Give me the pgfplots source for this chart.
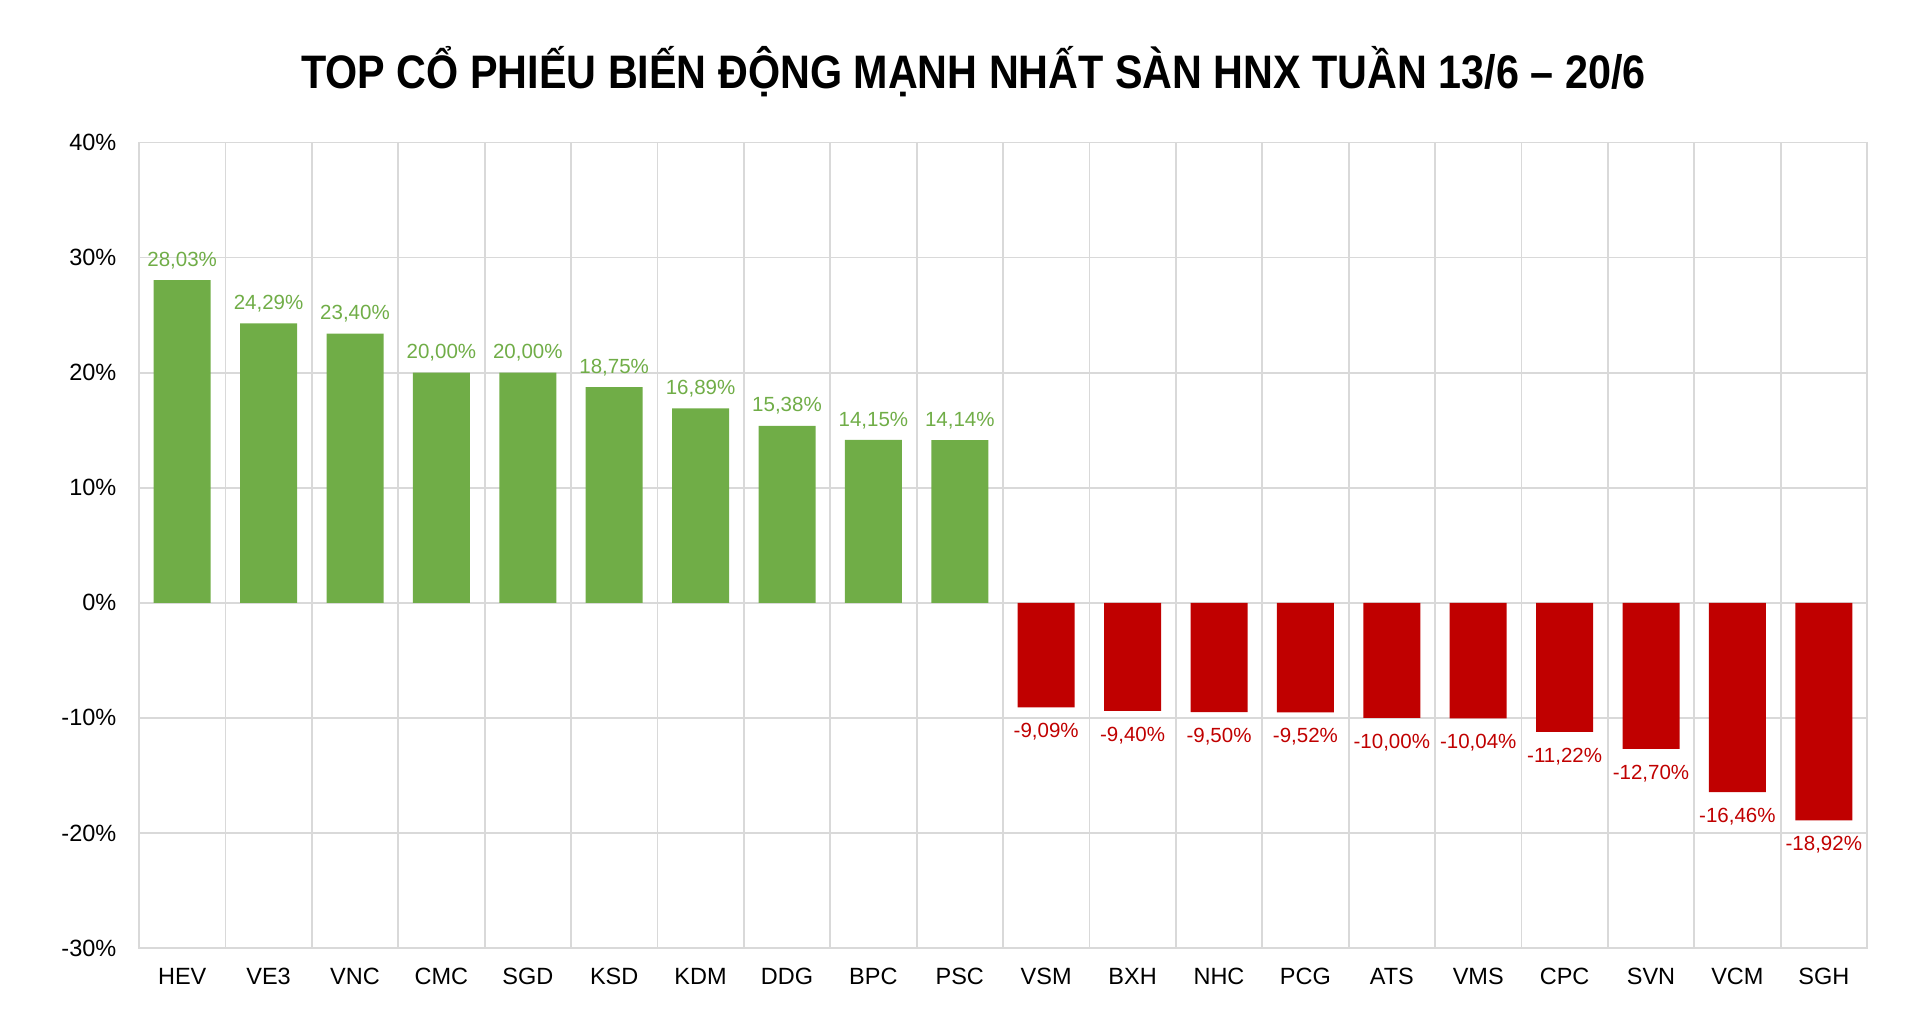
\documentclass[border=0pt]{standalone}
\usepackage{fontspec}
\setmainfont{Liberation Sans}
\usepackage{pgfplots}
\pgfplotsset{compat=1.18}
\definecolor{gpos}{HTML}{70AD47}
\definecolor{gneg}{HTML}{C00000}
\definecolor{gridgray}{HTML}{D9D9D9}
\begin{document}
\begin{tikzpicture}
\path[use as bounding box] (0,0) rectangle (960bp,512bp);
\node[anchor=base, inner sep=0pt] at (486.75bp,467.5bp)
  {\scalebox{0.879}[1]{\fontsize{23.5bp}{28bp}\selectfont\bfseries TOP CỔ PHIẾU BIẾN ĐỘNG MẠNH NHẤT SÀN HNX TUẦN 13/6 – 20/6}};
\begin{axis}[
  at={(69.5bp,38bp)}, anchor=south west,
  scale only axis, width=864bp, height=402.75bp,
  xmin=-0.5, xmax=19.5, ymin=-30, ymax=40,
  xtick={0,...,19},
  xticklabels={HEV,VE3,VNC,CMC,SGD,KSD,KDM,DDG,BPC,PSC,VSM,BXH,NHC,PCG,ATS,VMS,CPC,SVN,VCM,SGH},
  minor xtick={-0.5,0.5,...,19.5},
  ytick={-30,-20,...,40},
  xminorgrids=true, xmajorgrids=false, ymajorgrids=true,
  grid style={draw=gridgray, line width=0.9bp},
  minor grid style={draw=gridgray, line width=0.9bp},
  axis line style={draw=gridgray, line width=0.9bp},
  major tick length=0pt, minor tick length=0pt,
  tick style={draw=none},
  yticklabel={\pgfmathprintnumber[assume math mode=true]{\tick}\%},
  yticklabel style={anchor=east, inner sep=0pt, xshift=-11.15bp, font=\fontsize{11.75bp}{14bp}\selectfont},
  xticklabel style={anchor=north, inner sep=0pt, yshift=-9.8bp, font=\fontsize{11.75bp}{14bp}\selectfont},
  /pgf/number format/assume math mode=true,
]
\addplot[ybar, bar width=28.5bp, bar shift=0pt, fill=gpos, draw=none,
  nodes near coords={\pgfmathprintnumber[fixed,fixed zerofill,precision=2,use comma,assume math mode=true]{\pgfplotspointmeta}\%},
  every node near coord/.style={anchor=south, inner sep=0pt, yshift=5.4bp, text=gpos, font=\fontsize{10.25bp}{12bp}\selectfont}]
coordinates {(0,28.03) (1,24.29) (2,23.40) (3,20.00) (4,20.00) (5,18.75) (6,16.89) (7,15.38) (8,14.15) (9,14.14)};
\addplot[ybar, bar width=28.5bp, bar shift=0pt, fill=gneg, draw=none,
  nodes near coords={\pgfmathprintnumber[fixed,fixed zerofill,precision=2,use comma,assume math mode=true]{\pgfplotspointmeta}\%},
  every node near coord/.style={anchor=north, inner sep=0pt, yshift=-7.8bp, text=gneg, font=\fontsize{10.25bp}{12bp}\selectfont}]
coordinates {(10,-9.09) (11,-9.40) (12,-9.50) (13,-9.52) (14,-10.00) (15,-10.04) (16,-11.22) (17,-12.70) (18,-16.46) (19,-18.92)};
\end{axis}
\end{tikzpicture}
\end{document}
